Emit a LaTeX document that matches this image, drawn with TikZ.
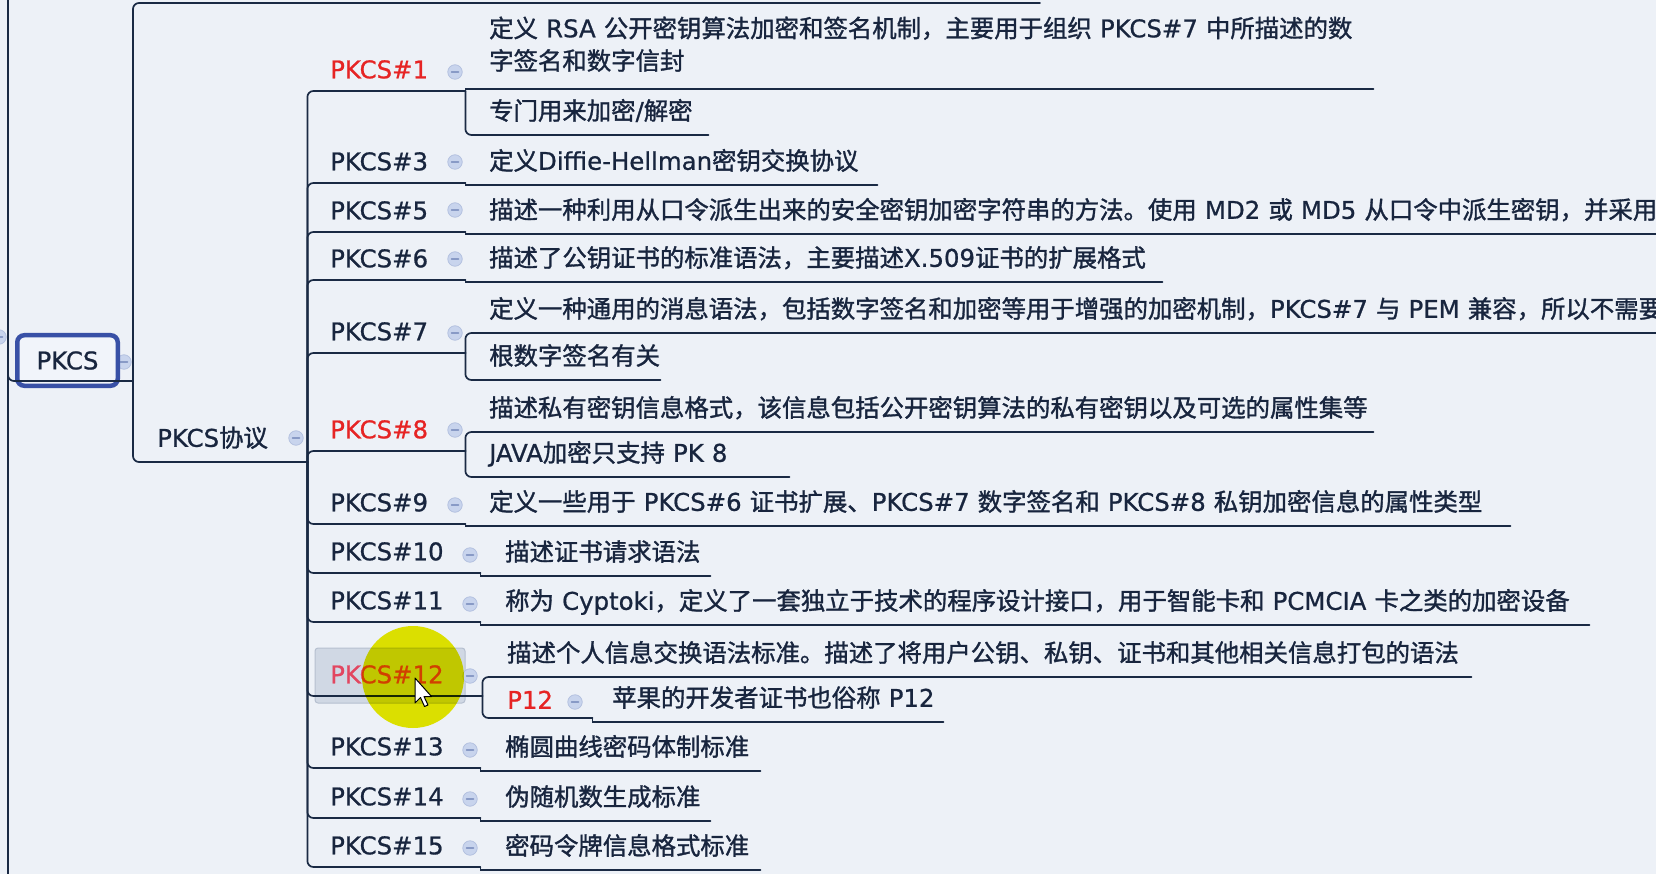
\documentclass[tikz,border=0pt]{standalone}
\usepackage{fontspec}
\setmainfont{DejaVu Sans}
\newfontfamily\latfont{DejaVu Sans}[RawFeature={embolden=0.8}]
\newfontfamily\cjkfont{Noto Sans CJK SC}[RawFeature={embolden=1.3}]
\newcommand\tfont{\fontsize{24.4pt}{32.5pt}\selectfont\cjkfont}
\usetikzlibrary{}

\newcount\cjkcnt
\newcommand\cjkrange[2]{\cjkcnt=#1\relax
  \loop\XeTeXcharclass\cjkcnt=42\relax
    \advance\cjkcnt by 1\relax
  \ifnum\cjkcnt<#2\relax\repeat}
\cjkrange{"3000}{"3040}
\cjkrange{"4E00}{"A000}
\cjkrange{"FF00}{"FFF0}
\XeTeXinterchartoks 0 42 = {\cjkfont}
\XeTeXinterchartoks 4095 42 = {\cjkfont}
\XeTeXinterchartoks 42 0 = {\latfont}
\XeTeXinterchartoks 42 4095 = {\latfont}
\XeTeXinterchartoks 4095 0 = {\latfont}
\XeTeXinterchartokenstate=1

\definecolor{mmbg}{RGB}{237,241,247}
\definecolor{mmline}{RGB}{26,42,68}
\definecolor{mmtext}{RGB}{24,37,62}
\definecolor{mmred}{RGB}{230,36,36}
\definecolor{selred}{RGB}{226,70,96}
\definecolor{rootblue}{RGB}{56,80,166}
\definecolor{rootfill}{RGB}{241,244,250}
\definecolor{foldfill}{RGB}{200,212,237}
\definecolor{foldedge}{RGB}{176,190,222}
\definecolor{foldbar}{RGB}{136,154,198}
\definecolor{selfill}{RGB}{208,216,228}
\definecolor{seledge}{RGB}{182,192,208}
\definecolor{hilite}{RGB}{236,236,0}

\begin{document}
\begin{tikzpicture}[x=1pt,y=-1pt,line cap=round,
    conn/.style={mmline,line width=1.7pt,rounded corners=6pt},
    jog/.style={mmline,line width=1.7pt},
    lvl/.style={anchor=south west,inner sep=0pt,text width=#1,align=left,
      text height=18pt,text depth=0pt,minimum height=43pt,text=mmtext,font=\tfont},
    lvl/.default=135pt,
    desc/.style={lvl=#1,minimum height=48pt},
    fold/.style={circle,inner sep=0pt,minimum size=14.5pt,fill=foldfill,draw=foldedge,
      line width=0.7pt,path picture={\draw[foldbar,line width=1.5pt]
        ([xshift=-3.5pt]path picture bounding box.center)
        -- ([xshift=3.5pt]path picture bounding box.center);}}]
  \useasboundingbox (0,0) rectangle (1656,874);
  \clip (0,0) rectangle (1656,874);
  \fill[mmbg] (0,0) rectangle (1656,874);
  \filldraw[fill=selfill,draw=seledge,line width=1pt,rounded corners=3pt]
    (315,648) rectangle (465,703);

  \foreach \n/\x/\y in {fl/-1/337,fr/124/362,fpro/296/438,f1/455/72,f3/455/162,
      f5/455/210,f6/455/259,f7/455/333,f8/455/430,f9/455/505,f10/470/555,
      f11/470/604,f12/470/676,fq/575/702,f13/470/750,f14/470/799,f15/470/848}
    \node[fold] (\n) at (\x,\y) {};

  \node[draw=rootblue,line width=4.5pt,rounded corners=7pt,fill=rootfill,inner sep=0pt,
    minimum width=100.5pt,minimum height=50.5pt,text=mmtext,font=\tfont]
    (root) at (67.5,360.5) {PKCS};
  \node[desc=150pt] (pro) at (157,462) {PKCS协议};

  \node[lvl,text=mmred] (p1) at (330,91) {PKCS\#1};
  \node[lvl] (p3) at (330,183) {PKCS\#3};
  \node[lvl] (p5) at (330,232) {PKCS\#5};
  \node[lvl] (p6) at (330,280) {PKCS\#6};
  \node[lvl] (p7) at (330,353) {PKCS\#7};
  \node[lvl,text=mmred] (p8) at (330,451) {PKCS\#8};
  \node[lvl] (p9) at (330,524) {PKCS\#9};
  \node[lvl=150pt] (p10) at (330,573) {PKCS\#10};
  \node[lvl=150pt] (p11) at (330,622) {PKCS\#11};
  \node[lvl=152pt,text=selred] (p12) at (330,696) {PKCS\#12};
  \node[lvl=150pt] (p13) at (330,768) {PKCS\#13};
  \node[lvl=150pt] (p14) at (330,818) {PKCS\#14};
  \node[lvl=150pt] (p15) at (330,867) {PKCS\#15};

  \node[desc=884pt,text depth=32.5pt,minimum height=88.5pt] (d1a) at (489,89)
    {\mbox{定义 RSA 公开密钥算法加密和签名机制，主要用于组织 PKCS\#7 中所描述的数}\\
     \mbox{字签名和数字信封}};
  \node[desc=219pt] (d1b) at (489,135) {\mbox{专门用来加密/解密}};
  \node[desc=388pt] (d3) at (489,185) {\mbox{定义Diffie-Hellman密钥交换协议}};
  \node[desc=1200pt] (d5) at (489,234)
    {\mbox{描述一种利用从口令派生出来的安全密钥加密字符串的方法。使用 MD2 或 MD5 从口令中派生密钥，并采用}};
  \node[desc=673pt] (d6) at (489,282) {\mbox{描述了公钥证书的标准语法，主要描述X.509证书的扩展格式}};
  \node[desc=1200pt] (d7a) at (489,333)
    {\mbox{定义一种通用的消息语法，包括数字签名和加密等用于增强的加密机制，PKCS\#7 与 PEM 兼容，所以不需要}};
  \node[desc=171pt] (d7b) at (489,380) {\mbox{根数字签名有关}};
  \node[desc=884pt] (d8a) at (489,432)
    {\mbox{描述私有密钥信息格式，该信息包括公开密钥算法的私有密钥以及可选的属性集等}};
  \node[desc=300pt] (d8b) at (489,477) {\mbox{JAVA加密只支持 PK 8}};
  \node[desc=1021pt] (d9) at (489,526)
    {\mbox{定义一些用于 PKCS\#6 证书扩展、PKCS\#7 数字签名和 PKCS\#8 私钥加密信息的属性类型}};
  \node[desc=205pt] (d10) at (505,576) {\mbox{描述证书请求语法}};
  \node[desc=1084pt] (d11) at (505,625)
    {\mbox{称为 Cyptoki，定义了一套独立于技术的程序设计接口，用于智能卡和 PCMCIA 卡之类的加密设备}};
  \node[desc=964pt] (d12a) at (507,677)
    {\mbox{描述个人信息交换语法标准。描述了将用户公钥、私钥、证书和其他相关信息打包的语法}};
  \node[lvl=85pt,minimum height=36pt,text=mmred] (q12) at (507,718) {P12};
  \node[desc=331pt] (d12b) at (612,722) {\mbox{苹果的开发者证书也俗称 P12}};
  \node[desc=255pt] (d13) at (505,771) {\mbox{椭圆曲线密码体制标准}};
  \node[desc=205pt] (d14) at (505,821) {\mbox{伪随机数生成标准}};
  \node[desc=255pt] (d15) at (505,870) {\mbox{密码令牌信息格式标准}};

  \coordinate (LT) at (8,-10);
  \coordinate (LB) at (8,884);
  \coordinate (RJ) at (133,381);
  \coordinate (UP) at (1040,3);

  \draw[jog] (LT) -- (LB);
  \draw[conn] (LT) |- (RJ);
  \draw[conn] (RJ) |- (UP);
  \draw[conn] (RJ) |- (pro.south east);
  \foreach \n in {p1,p3,p5,p6,p7,p8,p9,p10,p11,p12,p13,p14,p15}
    \draw[conn] (pro.south east) |- (\n.south east);
  \foreach \a/\b in {p1/d1b,p7/d7a,p7/d7b,p8/d8a,p8/d8b,p12/d12a,p12/q12}
    \draw[conn] (\a.south east) |- (\b.south east);
  \foreach \a/\b in {p1/d1a,p3/d3,p5/d5,p6/d6,p9/d9,p10/d10,p11/d11,q12/d12b,
      p13/d13,p14/d14,p15/d15}
    \draw[jog] (\a.south east) |- (\b.south east);

  \fill[hilite,blend mode=multiply] (413,677) circle (51pt);
  \begin{scope}[shift={(415,678)}]
    \filldraw[fill=white,draw=black,line width=1pt,line join=round]
      (0,0) -- (0,25) -- (5.5,19.5) -- (9.5,28.5) -- (13,27) -- (9,18.5) -- (16.5,18.5) -- cycle;
  \end{scope}
\end{tikzpicture}
\end{document}
